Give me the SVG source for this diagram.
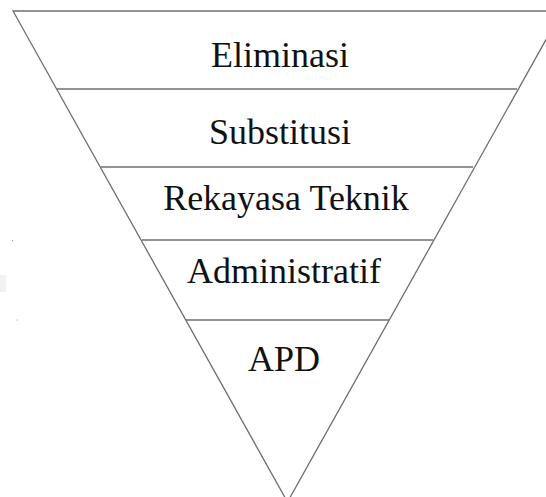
<svg xmlns="http://www.w3.org/2000/svg" width="546" height="497" viewBox="0 0 546 497">
<style>
.ln{stroke:#6e6e6e;stroke-width:1.3;fill:none}
.t{font-family:"Liberation Serif","Times New Roman",serif;font-size:36px;fill:#111;text-anchor:middle}
</style>
<rect width="546" height="497" fill="#fff"/>
<rect x="0" y="275" width="6" height="17" fill="#f2f2f2"/>
<rect x="12" y="240" width="1.2" height="1.2" fill="#999"/>
<rect x="16.5" y="319.5" width="1.2" height="1.2" fill="#bbb"/>
<g id="connectors">
<polygon class="ln" points="13,11 562,11 287.5,502"/>
<line class="ln" x1="57" y1="89" x2="517" y2="89"/>
<line class="ln" x1="101" y1="167" x2="473" y2="167"/>
<line class="ln" x1="142" y1="240" x2="433" y2="240"/>
<line class="ln" x1="186" y1="320" x2="389" y2="320"/>
</g>
<g id="eliminasi"><text class="t" x="280" y="67">Eliminasi</text></g>
<g id="substitusi"><text class="t" x="280" y="144">Substitusi</text></g>
<g id="rekayasa"><text class="t" x="286" y="210">Rekayasa Teknik</text></g>
<g id="administratif"><text class="t" x="284" y="283">Administratif</text></g>
<g id="apd"><text class="t" x="284" y="371">APD</text></g>
</svg>
